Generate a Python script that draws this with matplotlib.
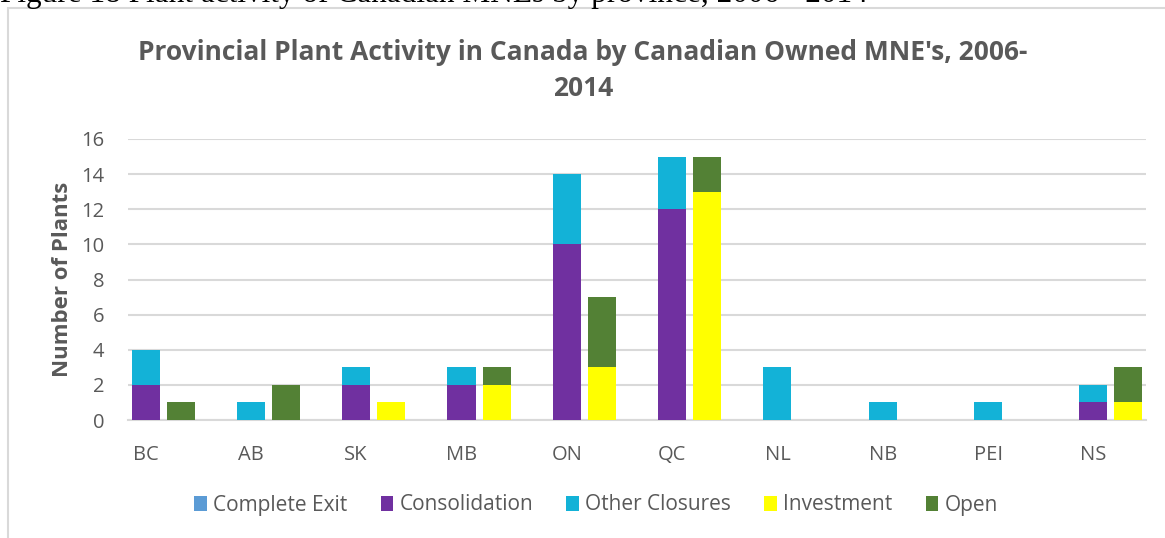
import numpy as np
import matplotlib.pyplot as plt
from matplotlib.patches import Rectangle

provinces = ['BC', 'AB', 'SK', 'MB', 'ON', 'QC', 'NL', 'NB', 'PEI', 'NS']

# closures (left bar of each province)
complete_exit = [0, 0, 0, 0, 0, 0, 0, 0, 0, 0]
consolidation = [2, 0, 2, 2, 10, 12, 0, 0, 0, 1]
other_closures = [2, 1, 1, 1, 4, 3, 3, 1, 1, 1]
# openings (right bar of each province)
investment = [0, 0, 1, 2, 3, 13, 0, 0, 0, 1]
open_new = [1, 2, 0, 1, 4, 2, 0, 0, 0, 2]

colors = {
    'Complete Exit': '#5B9BD5',
    'Consolidation': '#7030A0',
    'Other Closures': '#13B2D7',
    'Investment': '#FFFF00',
    'Open': '#538135',
}

plt.rcParams['font.family'] = ['Open Sans', 'DejaVu Sans']
text_color = '#595959'

fig = plt.figure(figsize=(11.65, 5.38), dpi=100)
ax = fig.add_axes([128 / 1165, 1 - 420 / 538, (1146 - 128) / 1165, (420 - 139) / 538])

# chart frame and cut-off caption from the page
fig.patches.append(Rectangle((8 / 1165, -0.01), 1.0, 1 - 8 / 538 + 0.01,
                             transform=fig.transFigure, fill=False,
                             edgecolor='#D9D9D9', linewidth=1.5))
fig.text(0.0, 1 - 2 / 538, 'Figure 18 Plant activity of Canadian MNEs by province, 2006 - 2014',
         family='Liberation Serif', fontsize=22.5, va='baseline', ha='left', color='black')

x = np.arange(len(provinces)) * 3
w = 0.8

left_series = [('Complete Exit', complete_exit), ('Consolidation', consolidation),
               ('Other Closures', other_closures)]
right_series = [('Investment', investment), ('Open', open_new)]

bottom = np.zeros(len(provinces))
for name, vals in left_series:
    vals = np.array(vals, dtype=float)
    ax.bar(x, vals, w, bottom=bottom, color=colors[name], label=name, zorder=3)
    bottom += vals

bottom = np.zeros(len(provinces))
for name, vals in right_series:
    vals = np.array(vals, dtype=float)
    ax.bar(x + 1, vals, w, bottom=bottom, color=colors[name], label=name, zorder=3)
    bottom += vals

ax.set_xlim(-0.5, 28.5)
ax.set_ylim(0, 16)
ax.set_yticks(range(0, 17, 2))
ax.set_xticks(x)
ax.set_xticklabels(provinces)
ax.tick_params(axis='both', length=0, labelsize=14.5, colors=text_color)
ax.tick_params(axis='x', pad=18)
ax.tick_params(axis='y', pad=17)
ax.grid(axis='y', color='#D9D9D9', linewidth=1.5, zorder=0)
for s in ['top', 'right', 'left']:
    ax.spines[s].set_visible(False)
ax.spines['bottom'].set_color('#D9D9D9')
ax.spines['bottom'].set_linewidth(1.5)

ax.set_ylabel('Number of Plants', fontsize=16, fontweight='bold', color=text_color, labelpad=6)

fig.text(583 / 1165, 1 - 52 / 538, "Provincial Plant Activity in Canada by Canadian Owned MNE's, 2006-",
         ha='center', va='center', fontsize=19, fontweight='bold', color=text_color)
fig.text(583 / 1165, 1 - 88 / 538, "2014",
         ha='center', va='center', fontsize=19, fontweight='bold', color=text_color)

leg = fig.legend(loc='center', bbox_to_anchor=(596 / 1165, 1 - 505 / 538), ncol=5,
                 frameon=False, fontsize=15, handlelength=0.6, handleheight=0.7,
                 handletextpad=0.3, columnspacing=1.6)
for t in leg.get_texts():
    t.set_color(text_color)

fig.savefig('out.png', dpi=100)
